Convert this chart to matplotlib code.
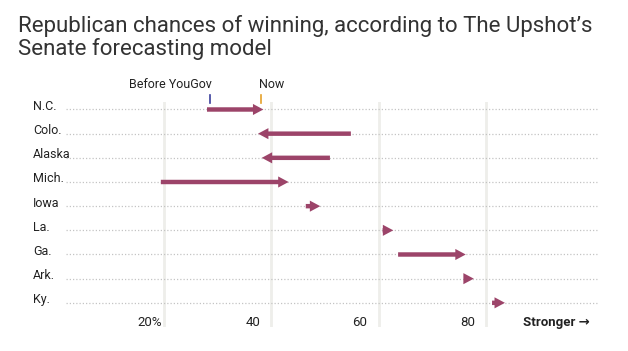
import matplotlib
matplotlib.use("Agg")
import matplotlib.pyplot as plt
from matplotlib.patches import FancyArrowPatch

# Republican chances of winning (%), before and after adding YouGov polls
states = ["N.C.", "Colo.", "Alaska", "Mich.", "Iowa", "La.", "Ga.", "Ark.", "Ky."]
before = [28, 54.8, 50.9, 19.4, 46.4, 60.7, 63.6, 75.9, 81.1]
now = [38.5, 37.5, 38.2, 43.2, 49.1, 62.7, 76.2, 77.7, 83.5]
ticks = [20, 40, 60, 80]
tick_labels = ["20%", "40", "60", "80"]

ARROW = "#9c4469"
GRID = "#eeeeea"
DOTS = "#c4c4c4"
TEXT = "#222222"

FONT = ["Roboto", "DejaVu Sans"]

W, H = 628, 351
fig = plt.figure(figsize=(W / 100, H / 100), dpi=100)

# axes placed so value 0 sits at x=56.7px and value 100 at x=593.5px
x0, x100 = 56.7, 593.5
top_px, bot_px = 102, 327
ax = fig.add_axes([x0 / W, 1 - bot_px / H, (x100 - x0) / W, (bot_px - top_px) / H])
ax.set_xlim(0, 100)
ax.set_ylim(9.0, -0.31)
ax.axis("off")

# vertical gridlines
for t in ticks:
    ax.axvline(t, color=GRID, lw=2, zorder=0)

# dotted row guides and state labels
for i, s in enumerate(states):
    ax.plot([1.7, 100.6], [i, i], color=DOTS, lw=0.9, ls=(0, (1, 1.6)),
            clip_on=False, zorder=1)
    ax.text(-4.4, i - 0.13, s, ha="left", va="center", fontsize=9,
            family=FONT, color=TEXT, clip_on=False)

# arrows from before to now
for i in range(len(states)):
    arr = FancyArrowPatch((before[i], i), (now[i], i),
                          arrowstyle="simple,head_length=0.75,head_width=0.8,tail_width=0.32",
                          mutation_scale=10, color=ARROW, lw=0,
                          shrinkA=0, shrinkB=0, zorder=3, clip_on=False)
    ax.add_patch(arr)

# x tick labels, numerals right-aligned just left of each gridline
for t, lab in zip(ticks, tick_labels):
    off = 0.3 if lab.endswith("%") else 2.1
    ax.text(t - off, 8.8, lab, ha="right", va="center", fontsize=9.5,
            family=FONT, color=TEXT, clip_on=False)
ax.text(99.3, 8.8, "Stronger \u2192", ha="right", va="center", fontsize=9.5,
        family=FONT, fontweight="bold", color=TEXT, clip_on=False)

# legend markers above N.C.
ax.plot([before[0] + 0.5] * 2, [-0.62, -0.25], color="#3b3f9c", lw=1.2, clip_on=False)
ax.plot([now[0] - 0.4] * 2, [-0.62, -0.25], color="#e5a12a", lw=1.2, clip_on=False)
ax.text(before[0] + 0.9, -1.04, "Before YouGov", ha="right", va="center",
        fontsize=9, family=FONT, color=TEXT, clip_on=False)
ax.text(now[0] - 0.8, -1.04, "Now", ha="left", va="center",
        fontsize=9, family=FONT, color=TEXT, clip_on=False)

fig.text(18 / W, 1 - 15 / H,
         "Republican chances of winning, according to The Upshot\u2019s\nSenate forecasting model",
         ha="left", va="top", fontsize=16, family=FONT, fontweight="normal",
         color="#333333", linespacing=1.08)

fig.savefig("out.png", dpi=100)
